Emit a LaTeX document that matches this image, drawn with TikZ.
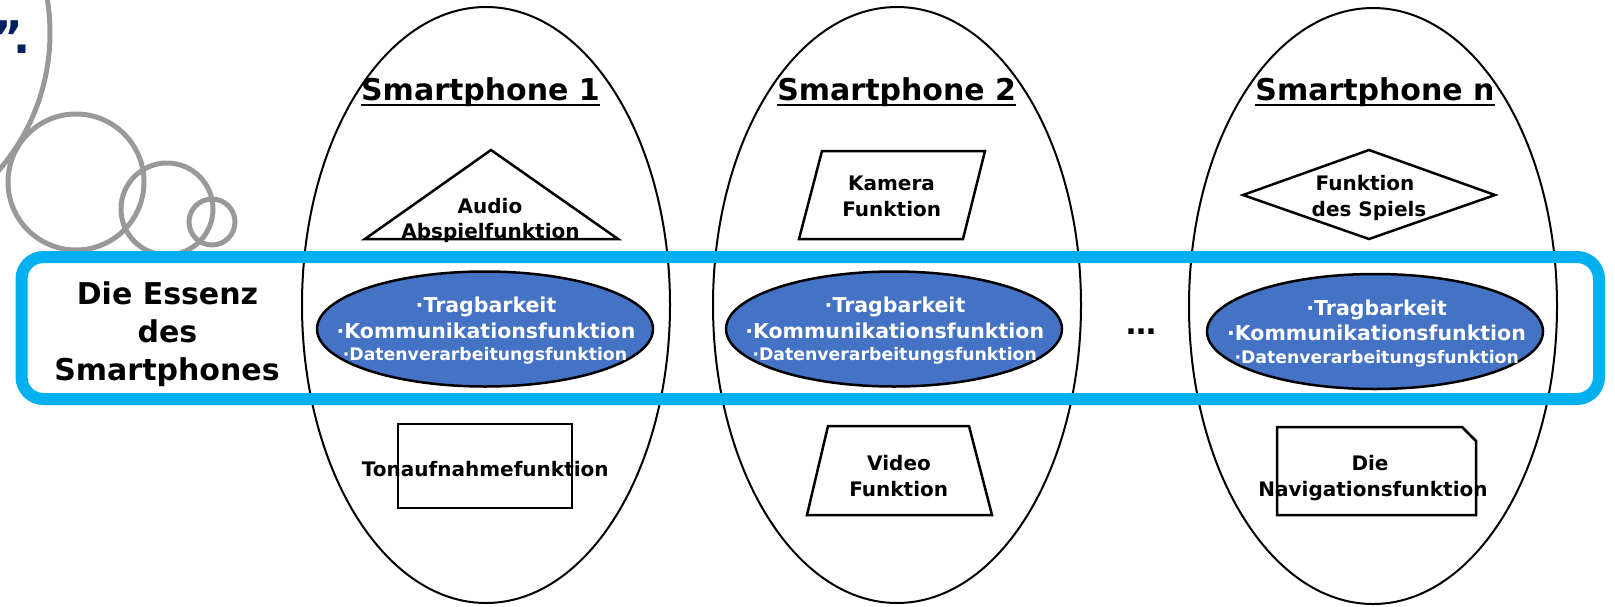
\documentclass[tikz,border=0pt]{standalone}
\usepackage{fontspec}
\setmainfont{DejaVu Sans}
\usetikzlibrary{shapes.geometric}
\definecolor{cyanband}{HTML}{00B0F0}
\definecolor{essblue}{HTML}{4472C4}
\definecolor{bubble}{HTML}{999999}
\definecolor{navy}{HTML}{002060}
\tikzset{
  phone/.style={draw, line width=2pt, shape=ellipse, minimum width=368pt, minimum height=596pt, inner sep=0pt},
  essence/.style={draw, line width=2.5pt, fill=essblue, shape=ellipse, minimum width=336pt, minimum height=115pt, inner sep=0pt},
  lbl/.style={font=\bfseries\fontsize{20}{20}\selectfont, inner sep=0pt, anchor=base},
  ptitle/.style={font=\bfseries\fontsize{30}{30}\selectfont, inner sep=0pt, anchor=base},
  wbig/.style={font=\bfseries\fontsize{20.5}{20.5}\selectfont, text=white, inner sep=0pt, anchor=base},
  wsmall/.style={font=\bfseries\fontsize{17.3}{17.3}\selectfont, text=white, inner sep=0pt, anchor=base},
  etitle/.style={font=\bfseries\fontsize{30}{30}\selectfont, inner sep=0pt, anchor=base},
  fshape/.style={draw, line width=2.5pt, line join=miter},
  bubbleline/.style={draw=bubble, line width=5pt},
  uline/.style={line width=2pt}
}
\begin{document}
\begin{tikzpicture}[x=1pt, y=-1pt]
\useasboundingbox (0,0) rectangle (1615,606);
\clip (0,0) rectangle (1615,606);
\fill[white] (0,0) rectangle (1615,606);

% thought bubbles
\draw[bubbleline] (-160,33) circle (210pt);
\draw[bubbleline] (76,182) circle (68pt);
\draw[bubbleline] (167,209) circle (46pt);
\draw[bubbleline] (212,222) circle (23pt);
\node[font=\bfseries\fontsize{45}{45}\selectfont, text=navy, inner sep=0pt, anchor=base east] (quote) at (31,53) {"\kern-9pt.};

% smartphones
\node[phone] (p1) at (486,305) {};
\node[phone] (p2) at (897,305) {};
\node[phone] (p3) at (1373,306) {};

% essence band
\draw[cyanband, line width=12pt, rounded corners=22pt] (21.5,257) rectangle (1599,399);

% titles
\node[ptitle] (t1) at (480.5,100) {Smartphone 1};
\node[ptitle] (t2) at (896.7,100) {Smartphone 2};
\node[ptitle] (t3) at (1375,100) {Smartphone n};
\foreach \t in {t1,t2,t3}{
  \draw[uline] ([yshift=-5pt]\t.base west) -- ([yshift=-5pt]\t.base east);
}

% upper function shapes
\draw[fshape] (365,239) -- (491,150) -- (618,239) -- cycle;
\node[lbl] (audio1) at (490,213) {Audio};
\node[lbl] (audio2) at (490.5,238) {Abspielfunktion};

\draw[fshape] (822,151) -- (985,151) -- (963,239) -- (799,239) -- cycle;
\node[lbl] (cam1) at (891.5,190.7) {Kamera};
\node[lbl] (cam2) at (891.7,216.7) {Funktion};

\draw[fshape] (1243,195) -- (1369,150) -- (1495,195) -- (1369,239) -- cycle;
\node[lbl] (game1) at (1365,190.7) {Funktion};
\node[lbl] (game2) at (1369,216.7) {des Spiels};

% lower function shapes
\draw[fshape] (398,424) rectangle (572,508);
\node[lbl] (rec) at (485.3,476) {Tonaufnahmefunktion};

\draw[fshape] (828,426) -- (969,426) -- (992,515) -- (807,515) -- cycle;
\node[lbl] (vid1) at (899,470) {Video};
\node[lbl] (vid2) at (898.7,496) {Funktion};

\draw[fshape] (1277,427) -- (1462,427) -- (1476,441) -- (1476,515) -- (1277,515) -- cycle;
\node[lbl] (nav1) at (1370,470) {Die};
\node[lbl] (nav2) at (1373,496) {Navigationsfunktion};

% essence ellipses
\node[essence] (e1) at (485,329) {};
\node[essence] (e2) at (894,329) {};
\node[essence] (e3) at (1375,331.5) {};

\node[wbig] (e1a) at (486,312.7) {·Tragbarkeit};
\node[wbig] (e1b) at (486,338) {·Kommunikationsfunktion};
\node[wsmall] (e1c) at (485,360) {·Datenverarbeitungsfunktion};

\node[wbig] (e2a) at (895,312.7) {·Tragbarkeit};
\node[wbig] (e2b) at (894.7,338) {·Kommunikationsfunktion};
\node[wsmall] (e2c) at (894.7,360) {·Datenverarbeitungsfunktion};

\node[wbig] (e3a) at (1376.7,315) {·Tragbarkeit};
\node[wbig] (e3b) at (1376.5,340.7) {·Kommunikationsfunktion};
\node[wsmall] (e3c) at (1376.7,363) {·Datenverarbeitungsfunktion};

\node[font=\bfseries\fontsize{30}{30}\selectfont, inner sep=0pt, anchor=base] (dots) at (1141,334) {…};

% essence label
\node[etitle] (ess1) at (167.5,304) {Die Essenz};
\node[etitle] (ess2) at (167.5,342.7) {des};
\node[etitle] (ess3) at (167,380) {Smartphones};
\end{tikzpicture}
\end{document}
